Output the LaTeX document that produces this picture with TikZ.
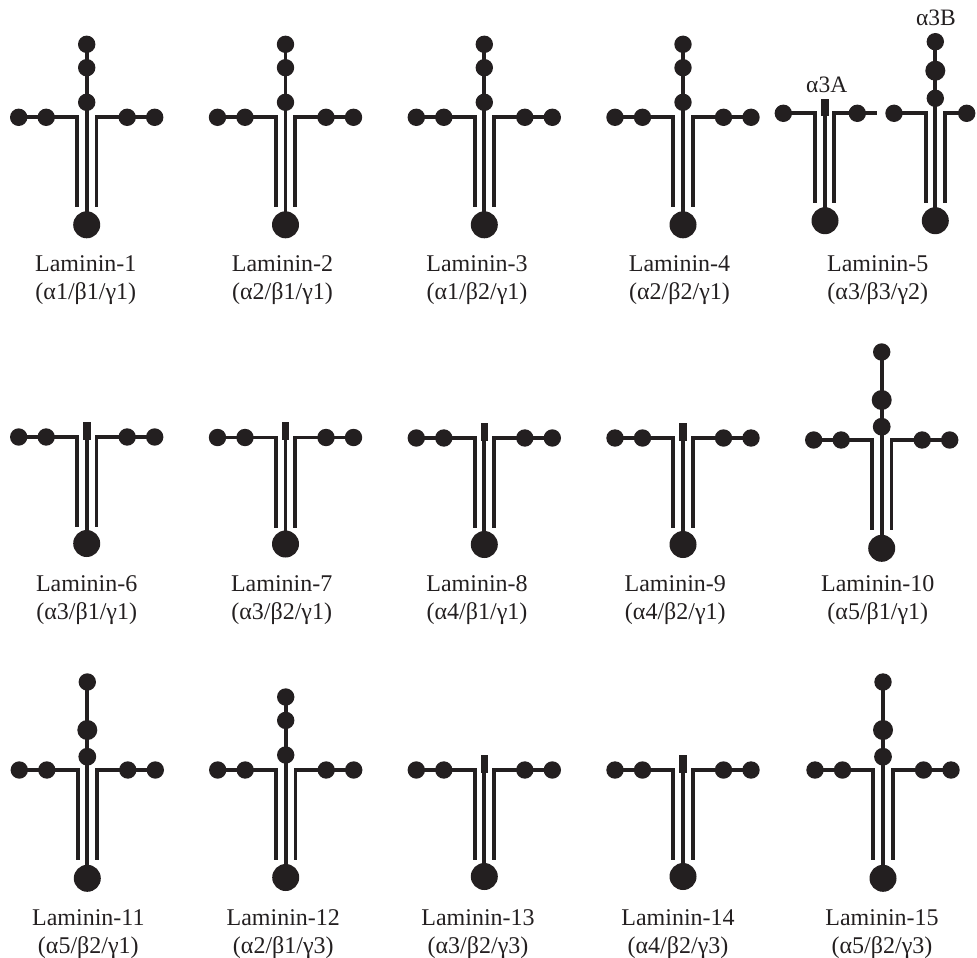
\documentclass[tikz,border=0pt]{standalone}
\usepackage{fontspec}
\setmainfont{Liberation Serif}
\definecolor{ink}{RGB}{35,31,32}
\tikzset{
  strand/.style={draw=ink, line width=3.8pt, line cap=butt, line join=miter},
  knob/.style={fill=ink, draw=none},
  lbl/.style={anchor=base, inner sep=0pt, text=ink, font=\fontsize{24}{28}\selectfont},
  tag/.style={anchor=base, inner sep=0pt, text=ink, font=\fontsize{23.5}{27}\selectfont},
  pics/betagamma/.style={code={
    \draw[strand] (-68,0) -- (-9.7,0) -- (-9.7,90);
    \draw[strand] (68,0) -- (9.7,0) -- (9.7,90);
    \fill[knob] (-68,0) circle (8.7) (-40.5,0) circle (8.7) (40.5,0) circle (8.7) (68,0) circle (8.7);
  }},
  pics/aonetwo/.style={code={
    \draw[strand] (0,-73) -- (0,107.5);
    \fill[knob] (0,-73) circle (8.7) (0,-49.6) circle (8.7) (0,-15) circle (8.7) (0,107.5) circle (13.5);
  }},
  pics/athreefour/.style={code={
    \draw[strand] (0,0) -- (0,106.5);
    \fill[knob] (-3.8,-15.5) rectangle (3.8,2.5);
    \fill[knob] (0,106.5) circle (13.5);
  }},
  pics/afive/.style={code={
    \draw[strand] (0,-88) -- (0,108.3);
    \fill[knob] (0,-88) circle (8.7) (0,-40) circle (10) (0,-13.3) circle (8.9) (0,108.3) circle (13.5);
  }},
}
\begin{document}
\begin{tikzpicture}[x=1pt,y=-1pt]
\useasboundingbox (0,0) rectangle (977,958);
% ---------- row 1 ----------
\pic at (86.7,117.3) {betagamma}; \pic at (86.7,117.3) {aonetwo};
\pic at (285.5,117.3) {betagamma}; \pic at (285.5,117.3) {aonetwo};
\pic at (484.3,117.3) {betagamma}; \pic at (484.3,117.3) {aonetwo};
\pic at (683,117.3) {betagamma}; \pic at (683,117.3) {aonetwo};
% Laminin-5, alpha3A
\begin{scope}[shift={(825,113.3)}]
  \draw[strand] (-41.7,0) -- (-10.3,0) -- (-10.3,90);
  \draw[strand] (51.7,0) -- (9.3,0) -- (9.3,90);
  \draw[strand] (0,0) -- (0,107.4);
  \fill[knob] (-4.1,-14.3) rectangle (4.1,2.7);
  \fill[knob] (-41.7,0) circle (8.7) (32.3,0) circle (8.7) (0,107.4) circle (13.5);
\end{scope}
% Laminin-5, alpha3B
\begin{scope}[shift={(935.3,113.3)}]
  \draw[strand] (-41.3,0) -- (-9.7,0) -- (-9.7,90);
  \draw[strand] (31.4,0) -- (9.7,0) -- (9.7,90);
  \draw[strand] (0,-71.6) -- (0,107.4);
  \fill[knob] (0,-71.6) circle (8.7) (0,-42.6) circle (10) (0,-15) circle (8.7);
  \fill[knob] (-41.3,0) circle (8.7) (31.4,0) circle (8.7) (0,107.4) circle (13.5);
\end{scope}
\node[tag] (tA) at (826.7,92.7) {α3A};
\node[tag] (tB) at (936,26) {α3B};
% ---------- row 2 ----------
\pic at (86.7,437) {betagamma}; \pic at (86.7,437) {athreefour};
\pic at (285.5,437.5) {betagamma}; \pic at (285.5,437.5) {athreefour};
\pic at (484.3,438) {betagamma}; \pic at (484.3,438) {athreefour};
\pic at (683,438) {betagamma}; \pic at (683,438) {athreefour};
\pic at (881.7,440) {betagamma}; \pic at (881.7,440) {afive};
% ---------- row 3 ----------
\pic at (87.3,770) {betagamma}; \pic at (87.3,770) {afive};
\pic at (285.7,770) {betagamma}; \pic at (285.7,770) {aonetwo};
\pic at (484.3,770) {betagamma}; \pic at (484.3,770) {athreefour};
\pic at (683,770) {betagamma}; \pic at (683,770) {athreefour};
\pic at (883,770) {betagamma}; \pic at (883,770) {afive};
% ---------- labels ----------
\node[lbl] (n1)  at (85.8,271.7) {Laminin-1};  \node[lbl] (c1)  at (85.8,299.7) {(α1/β1/γ1)};
\node[lbl] (n2)  at (282.5,271.7) {Laminin-2}; \node[lbl] (c2)  at (282.5,299.7) {(α2/β1/γ1)};
\node[lbl] (n3)  at (477,271.7) {Laminin-3};   \node[lbl] (c3)  at (477,299.7) {(α1/β2/γ1)};
\node[lbl] (n4)  at (679.5,271.7) {Laminin-4}; \node[lbl] (c4)  at (679.5,299.7) {(α2/β2/γ1)};
\node[lbl] (n5)  at (877.8,271.7) {Laminin-5}; \node[lbl] (c5)  at (877.8,299.7) {(α3/β3/γ2)};
\node[lbl] (n6)  at (86.7,591.5) {Laminin-6};  \node[lbl] (c6)  at (86.7,619.5) {(α3/β1/γ1)};
\node[lbl] (n7)  at (281.7,591.5) {Laminin-7}; \node[lbl] (c7)  at (281.7,619.5) {(α3/β2/γ1)};
\node[lbl] (n8)  at (477,591.5) {Laminin-8};   \node[lbl] (c8)  at (477,619.5) {(α4/β1/γ1)};
\node[lbl] (n9)  at (675.3,591.5) {Laminin-9}; \node[lbl] (c9)  at (675.3,619.5) {(α4/β2/γ1)};
\node[lbl] (n10) at (877.8,591.5) {Laminin-10}; \node[lbl] (c10) at (877.8,619.5) {(α5/β1/γ1)};
\node[lbl] (n11) at (88.3,925) {Laminin-11};  \node[lbl] (c11) at (88.3,953) {(α5/β2/γ1)};
\node[lbl] (n12) at (283.3,925) {Laminin-12}; \node[lbl] (c12) at (283.3,953) {(α2/β1/γ3)};
\node[lbl] (n13) at (478,925) {Laminin-13};   \node[lbl] (c13) at (478,953) {(α3/β2/γ3)};
\node[lbl] (n14) at (678,925) {Laminin-14};   \node[lbl] (c14) at (678,953) {(α4/β2/γ3)};
\node[lbl] (n15) at (882,925) {Laminin-15};   \node[lbl] (c15) at (882,953) {(α5/β2/γ3)};
\end{tikzpicture}
\end{document}
